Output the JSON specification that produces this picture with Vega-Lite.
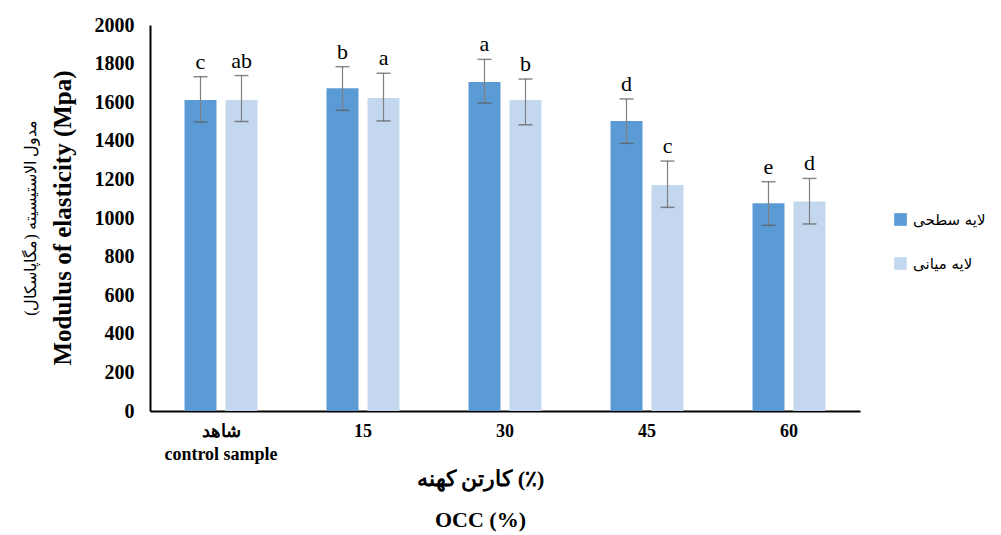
{
  "$schema": "https://vega.github.io/schema/vega-lite/v6.json",
  "autosize": {"type": "none"},
  "padding": {"left": 150, "top": 25, "right": 141, "bottom": 124},
  "width": 710,
  "height": 386,
  "background": "white",
  "config": {
    "view": {"stroke": null},
    "axisY": {
      "values": [0, 200, 400, 600, 800, 1000, 1200, 1400, 1600, 1800, 2000],
      "format": "d",
      "labelOverlap": false,
      "grid": false,
      "ticks": false,
      "labelFont": "Liberation Serif",
      "labelFontSize": 20,
      "labelFontWeight": "bold",
      "labelColor": "black",
      "labelPadding": 16,
      "domainColor": "black",
      "domainWidth": 2,
      "title": null
    }
  },
  "title": {
    "text": "مدول الاستیسیته (مگاپاسکال)",
    "subtitle": "Modulus of elasticity (Mpa)",
    "orient": "left",
    "anchor": "middle",
    "font": "Liberation Serif",
    "fontSize": 16,
    "fontWeight": "normal",
    "color": "black",
    "subtitleFont": "Liberation Serif",
    "subtitleFontSize": 25,
    "subtitleFontWeight": "bold",
    "subtitleColor": "black",
    "subtitlePadding": 12,
    "offset": 18
  },
  "data": {
    "values": [
      {"occ": "شاهد|control sample", "layer": "لایه سطحی", "value": 1611, "lo": 1498, "hi": 1732, "letter": "c"},
      {"occ": "شاهد|control sample", "layer": "لایه میانی", "value": 1611, "lo": 1500, "hi": 1738, "letter": "ab"},
      {"occ": "15", "layer": "لایه سطحی", "value": 1672, "lo": 1558, "hi": 1784, "letter": "b"},
      {"occ": "15", "layer": "لایه میانی", "value": 1622, "lo": 1503, "hi": 1750, "letter": "a"},
      {"occ": "30", "layer": "لایه سطحی", "value": 1705, "lo": 1596, "hi": 1822, "letter": "a"},
      {"occ": "30", "layer": "لایه میانی", "value": 1611, "lo": 1483, "hi": 1720, "letter": "b"},
      {"occ": "45", "layer": "لایه سطحی", "value": 1503, "lo": 1387, "hi": 1617, "letter": "d"},
      {"occ": "45", "layer": "لایه میانی", "value": 1171, "lo": 1055, "hi": 1295, "letter": "c"},
      {"occ": "60", "layer": "لایه سطحی", "value": 1076, "lo": 962, "hi": 1188, "letter": "e"},
      {"occ": "60", "layer": "لایه میانی", "value": 1085, "lo": 969, "hi": 1205, "letter": "d"}
    ]
  },
  "encoding": {
    "x": {
      "field": "occ",
      "type": "nominal",
      "sort": null,
      "scale": {"paddingInner": 0.486, "paddingOuter": 0.243},
      "axis": {
        "labelExpr": "split(datum.label, '|')",
        "labelAngle": 0,
        "labelFont": "Liberation Serif",
        "labelFontSize": 18,
        "labelFontWeight": "bold",
        "labelColor": "black",
        "labelPadding": 11,
        "labelLineHeight": 23,
        "ticks": false,
        "domainColor": "black",
        "domainWidth": 2,
        "title": ["کارتن کهنه (٪)", "OCC (%)"],
        "titleFont": "Liberation Serif",
        "titleFontSize": 22,
        "titleFontWeight": "bold",
        "titleColor": "black",
        "titleLineHeight": 41,
        "titleBaseline": "top",
        "titleX": 330,
        "titleY": 57
      }
    },
    "xOffset": {
      "field": "layer",
      "type": "nominal",
      "sort": ["لایه سطحی", "لایه میانی"],
      "scale": {"paddingInner": 0.22, "paddingOuter": 0}
    }
  },
  "layer": [
    {
      "mark": {"type": "bar"},
      "encoding": {
        "y": {
          "field": "value",
          "type": "quantitative",
          "scale": {"domain": [0, 2000]},
          "axis": {"title": null}
        },
        "color": {
          "field": "layer",
          "type": "nominal",
          "sort": ["لایه سطحی", "لایه میانی"],
          "scale": {"domain": ["لایه سطحی", "لایه میانی"], "range": ["#5b9bd5", "#c3d8ef"]},
          "legend": {
            "title": null,
            "orient": "none",
            "legendX": 743,
            "legendY": 187,
            "symbolType": "square",
            "symbolSize": 160,
            "symbolStrokeWidth": 0,
            "labelFont": "DejaVu Sans",
            "labelFontSize": 15,
            "labelColor": "black",
            "rowPadding": 28,
            "labelOffset": 5
          }
        }
      }
    },
    {
      "mark": {"type": "rule", "color": "#808080", "strokeWidth": 1.2},
      "encoding": {
        "y": {"field": "lo", "type": "quantitative", "axis": {"title": null}},
        "y2": {"field": "hi"}
      }
    },
    {
      "mark": {"type": "tick", "color": "#595959", "thickness": 1.5, "size": 14, "orient": "horizontal"},
      "encoding": {
        "y": {"field": "lo", "type": "quantitative", "axis": {"title": null}}
      }
    },
    {
      "mark": {"type": "tick", "color": "#595959", "thickness": 1.5, "size": 14, "orient": "horizontal"},
      "encoding": {
        "y": {"field": "hi", "type": "quantitative", "axis": {"title": null}}
      }
    },
    {
      "mark": {"type": "text", "baseline": "alphabetic", "dy": -8, "font": "Liberation Serif", "fontSize": 22, "color": "black"},
      "encoding": {
        "y": {"field": "hi", "type": "quantitative", "axis": {"title": null}},
        "text": {"field": "letter"}
      }
    }
  ]
}
